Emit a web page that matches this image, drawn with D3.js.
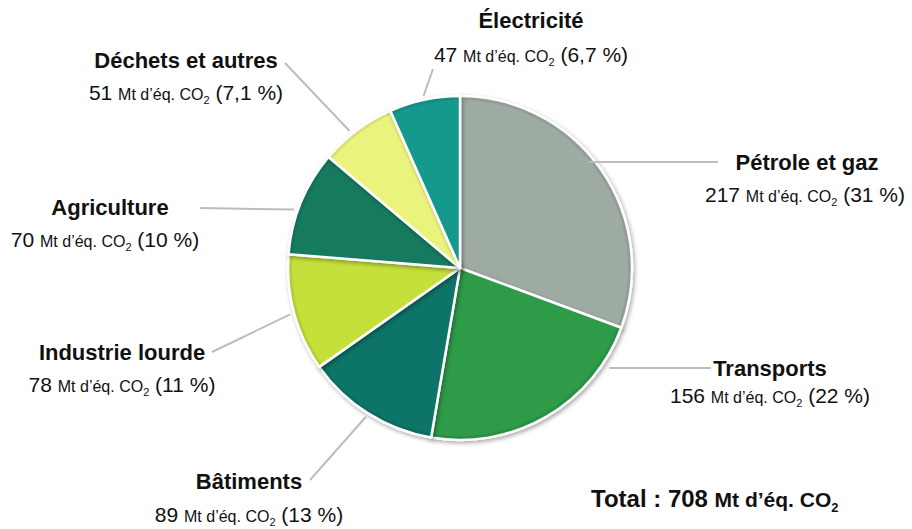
<!DOCTYPE html>
<html><head><meta charset="utf-8">
<script src="https://cdn.jsdelivr.net/npm/d3@7"></script>
<style>body{margin:0;background:#fff}svg{display:block}text{font-family:"Liberation Sans",Arial,sans-serif;fill:#111}</style>
</head><body><svg id="c" width="912" height="529"></svg>
<script>
const categories = ["Pétrole et gaz","Transports","Bâtiments","Industrie lourde","Agriculture","Déchets et autres","Électricité"];
const values = [217,156,89,78,70,51,47];
const percents = ["31 %","22 %","13 %","11 %","10 %","7,1 %","6,7 %"];
const colors = ["#9eaba3","#2f9b4a","#0b7468","#c6e03a","#187a5f","#eaf47c","#13998d"];
const total = 708;

// layout: title center/baseline, subtitle center/baseline, leader end, angle offset (deg)
const layout = [
  {tx:807, ty:170, sx:805, sy:202, lx:718, ly:162, off:-8},
  {tx:770, ty:376, sx:770, sy:403, lx:711, ly:368, off:-28},
  {tx:249, ty:489, sx:249, sy:522, lx:310, ly:480, off:0},
  {tx:122, ty:360, sx:122, sy:392, lx:212, ly:352, off:0},
  {tx:110, ty:215, sx:105, sy:247, lx:200, ly:208, off:-3},
  {tx:186, ty:68, sx:186, sy:100, lx:285, ly:63, off:-2},
  {tx:531, ty:28, sx:531, sy:62, lx:433, ly:69, off:0}
];

const svg = d3.select("#c");
const cx = 460, cy = 268, r = 172;
const defs = svg.append("defs");
const f = defs.append("filter").attr("id","sh").attr("x","-20%").attr("y","-20%").attr("width","140%").attr("height","140%");
f.append("feDropShadow").attr("dx",1.5).attr("dy",2).attr("stdDeviation",2).attr("flood-color","#000").attr("flood-opacity",0.35);

const pie = d3.pie().sort(null).value(d=>d)(values);
const arc = d3.arc().innerRadius(0).outerRadius(r);
const g = svg.append("g").attr("transform",`translate(${cx},${cy})`);
g.selectAll("path.s").data(pie).join("path").attr("class","s")
  .attr("d",arc).attr("fill",(d,i)=>colors[i])
  .attr("stroke","#fff").attr("stroke-width",2.5).attr("stroke-linejoin","round")
  .attr("filter","url(#sh)");
const arcIn = d3.arc().innerRadius(r-4).outerRadius(r-1);
g.selectAll("path.b").data(pie).join("path").attr("class","b")
  .attr("d",d=>arcIn({startAngle:d.startAngle+0.01,endAngle:d.endAngle-0.01}))
  .attr("fill","#000").attr("opacity",0.08);

pie.forEach((d,i)=>{
  const L = layout[i];
  const a = (d.startAngle+d.endAngle)/2 + L.off*Math.PI/180;
  const x0 = cx + (r+4)*Math.sin(a), y0 = cy - (r+4)*Math.cos(a);
  let pts = [[x0,y0],[L.lx,L.ly]];
  if (i===0||i===1) pts = [[x0,L.ly],[L.lx,L.ly]];
  svg.append("polyline").attr("points",pts.map(p=>p.join(",")).join(" "))
    .attr("fill","none").attr("stroke","#bdbdbd").attr("stroke-width",2);
});

categories.forEach((c,i)=>{
  const L = layout[i];
  svg.append("text").attr("x",L.tx).attr("y",L.ty).attr("text-anchor","middle")
    .attr("font-weight","bold").attr("font-size",22).text(c);
  const t = svg.append("text").attr("x",L.sx).attr("y",L.sy).attr("text-anchor","middle").attr("font-size",21);
  t.append("tspan").text(values[i]+" ");
  t.append("tspan").attr("font-size",16).text("Mt d’éq. CO");
  t.append("tspan").attr("font-size",11).attr("dy",4).text("2");
  t.append("tspan").attr("dy",-4).text(" ("+percents[i]+")");
});

const tt = svg.append("text").attr("x",591).attr("y",507).attr("font-weight","bold").attr("font-size",24);
tt.append("tspan").text("Total : "+total+" ");
tt.append("tspan").attr("font-size",21).text("Mt d’éq. CO");
tt.append("tspan").attr("font-size",13).attr("dy",5).text("2");
</script></body></html>
